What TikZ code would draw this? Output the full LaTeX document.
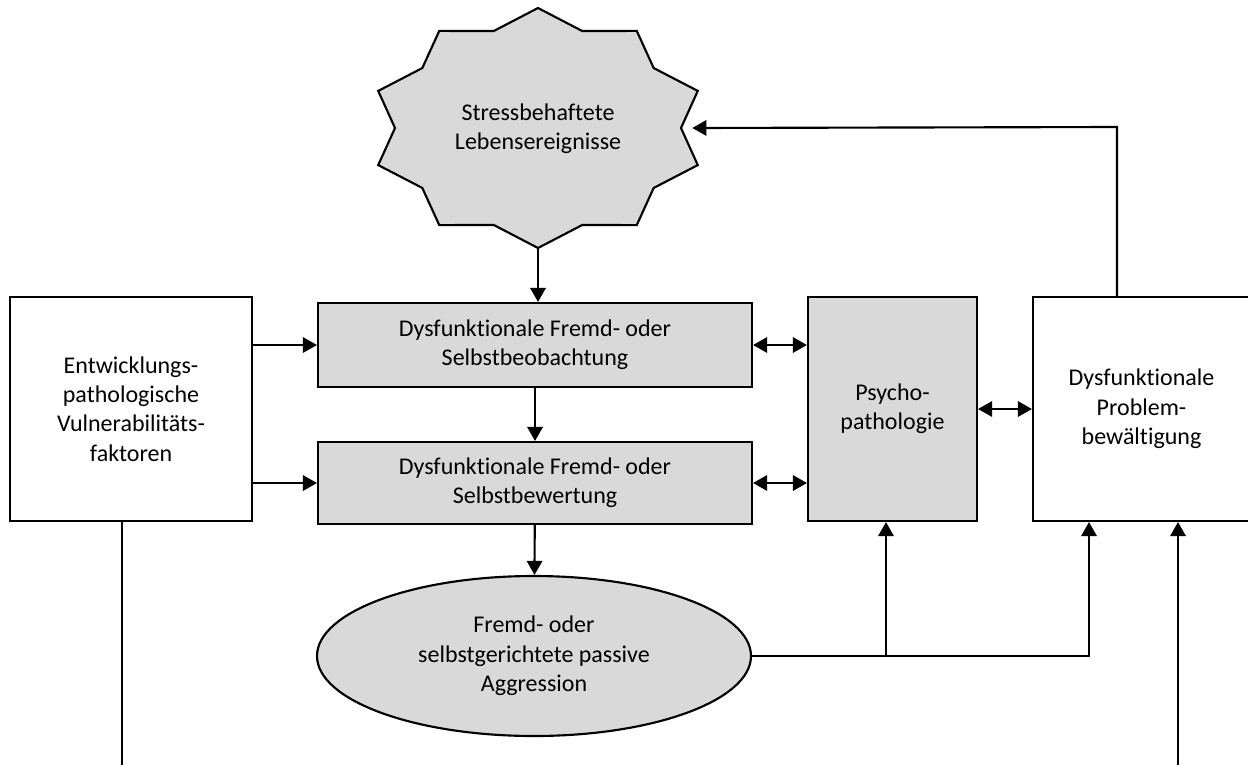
\documentclass[tikz,border=0pt]{standalone}
\usepackage{fontspec}
\setmainfont{Carlito}[Ligatures=NoCommon]
\usetikzlibrary{arrows.meta,shapes.geometric}
\definecolor{boxgray}{HTML}{D9D9D9}
\tikzset{
  every node/.style={font=\fontsize{18}{22}\selectfont, align=center, inner sep=0pt},
  ln/.style={line width=1.6pt},
  blk/.style={draw, line width=1.6pt, rectangle},
  graybox/.style={blk, fill=boxgray},
  whitebox/.style={blk, fill=white},
  >={Triangle[length=10.5pt,width=11.5pt]}
}
\begin{document}
\begin{tikzpicture}[x=0.75pt,y=-0.75pt]
\clip (0,0) rectangle (1248,764);
% star
\filldraw[ln, fill=boxgray, line join=miter, shift={(538,128)}]
  plot[samples at={0,...,19}, variable=\k]
  ({(isodd(\k) ? 168 : 143)*cos(\k*18)}, {(isodd(\k) ? 120 : 102)*sin(\k*18)}) -- cycle;
\node (star) at (538,129) {Stressbehaftete\\Lebensereignisse};
\coordinate (starS) at (538,248);
\coordinate (starE) at (681,128);
% boxes
\node[whitebox, minimum width=242*0.75pt, minimum height=224*0.75pt] (left) at (131,409)
  {Entwicklungs-\\pathologische\\Vulnerabilitäts-\\faktoren};
\node[graybox, minimum width=434*0.75pt, minimum height=84*0.75pt] (b1) at (535,345)
  {Dysfunktionale Fremd- oder\\Selbstbeobachtung};
\node[graybox, minimum width=434*0.75pt, minimum height=82*0.75pt] (b2) at (535,483)
  {Dysfunktionale Fremd- oder\\Selbstbewertung};
\node[graybox, minimum width=169*0.75pt, minimum height=224*0.75pt] (psy) at (892.5,409)
  {Psycho-\\pathologie};
\node[whitebox, minimum width=217*0.75pt, minimum height=224*0.75pt] (rt) at (1141.5,409)
  {Dysfunktionale\\Problem-\\bewältigung};
\node[draw, ln, ellipse, fill=boxgray, minimum width=434*0.75pt, minimum height=160*0.75pt] (ell) at (534,656)
  {Fremd- oder\\selbstgerichtete passive\\Aggression};
% coordinates
\coordinate (j1) at (886,656);
\coordinate (j2) at (1089,656);
\coordinate (tr) at (1117,127);
\coordinate (lb) at (122,780);
\coordinate (rb) at (1178,780);
% connectors
\draw[ln,->] (starS) -- (b1.north -| starS);
\draw[ln,->] (b1) -- (b2);
\draw[ln,->] (b2) -- (ell);
\draw[ln,->] (left.east |- b1.west) -- (b1.west);
\draw[ln,->] (left.east |- b2.west) -- (b2.west);
\draw[ln,<->] (b1.east) -- (psy.west |- b1.east);
\draw[ln,<->] (b2.east) -- (psy.west |- b2.east);
\draw[ln,<->] (psy.east) -- (rt.west);
\draw[ln,->] (ell.east) -- (j2) -- (j2 |- rt.south);
\draw[ln,->] (j1) -- (j1 |- psy.south);
\draw[ln,->] (rt.north -| tr) -- (tr) -- ([xshift=8.5pt]starE);
\draw[ln] (left.south -| lb) -- (lb);
\draw[ln,->] (rb) -- (rb |- rt.south);
\end{tikzpicture}
\end{document}
